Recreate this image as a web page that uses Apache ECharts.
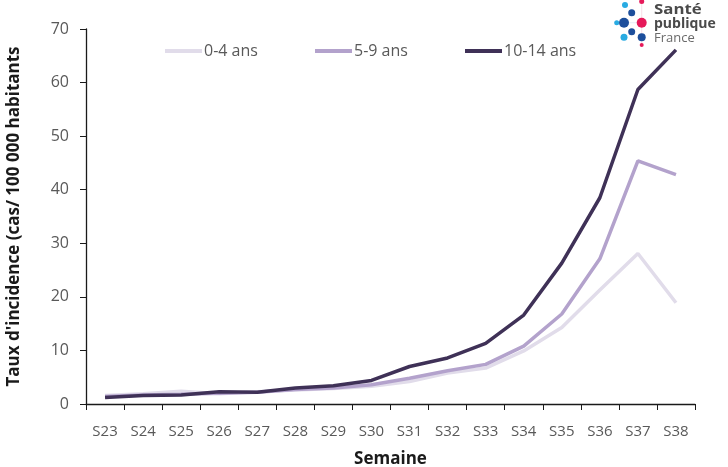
<!DOCTYPE html>
<html><head><meta charset="utf-8">
<script src="https://cdn.jsdelivr.net/npm/echarts@6/dist/echarts.min.js"></script>
<style>html,body{margin:0;padding:0;background:#fff}#c{width:728px;height:467px}</style>
</head><body><div id="c"></div>
<script>
const weeks = ['S23','S24','S25','S26','S27','S28','S29','S30','S31','S32','S33','S34','S35','S36','S37','S38'];
const ages04 = [1.6, 1.9, 2.4, 1.9, 2.3, 2.6, 2.9, 3.3, 4.2, 5.8, 6.7, 9.9, 14.3, 21.3, 28.1, 18.9];
const ages59 = [1.4, 1.7, 1.8, 2.0, 2.2, 2.7, 3.0, 3.6, 4.8, 6.2, 7.4, 10.8, 16.8, 27.1, 45.4, 42.8];
const ages1014 = [1.2, 1.6, 1.7, 2.3, 2.2, 3.0, 3.4, 4.4, 7.0, 8.6, 11.3, 16.6, 26.3, 38.5, 58.7, 66.1];
const yTicks = [0, 10, 20, 30, 40, 50, 60, 70];
const seriesNames = ['0-4 ans', '5-9 ans', '10-14 ans'];
const colors = ['#e1dcea', '#b3a2cc', '#3f3157'];

const chart = echarts.init(document.getElementById('c'));
const font = '"Open Sans", sans-serif';
const mk = (name, data, color) => ({
  name, type: 'line', data, symbol: 'none', smooth: false,
  lineStyle: { color, width: 3.5 }, itemStyle: { color }
});
const legendAt = (name, left) => ({
  data: [name], top: 38, left, itemWidth: 37, itemHeight: 4, icon: 'rect',
  textStyle: { color: '#595959', fontSize: 16, fontFamily: font, padding: [0, 0, 0, -3] }
});
const dots = [
  [625, 5, 3, '#29abe2'], [641.7, 1.5, 2.5, '#e6195a'], [631.7, 12.7, 3.5, '#1d4f9c'],
  [616.7, 22.7, 2.5, '#29abe2'], [624, 22.7, 5, '#1d4f9c'], [641.7, 22.7, 5, '#e6195a'],
  [631.7, 31.7, 3.5, '#1d4f9c'], [624, 37.3, 3.5, '#29abe2'], [641.7, 37.3, 4, '#1d4f9c'],
  [641.7, 45, 2, '#e6195a']
];
chart.setOption({
  animation: false,
  color: colors,
  grid: { left: 86, right: 33, top: 29, bottom: 63, containLabel: false, outerBoundsMode: 'none' },
  legend: [legendAt(seriesNames[0], 160), legendAt(seriesNames[1], 310), legendAt(seriesNames[2], 460)],
  xAxis: {
    type: 'category', data: weeks, boundaryGap: true,
    name: 'Semaine', nameLocation: 'middle', nameGap: 47,
    nameTextStyle: { color: '#1a1a1a', fontWeight: 'bold', fontSize: 17, fontFamily: font },
    axisLine: { lineStyle: { color: '#1a1a1a', width: 1.3 } },
    axisTick: { show: true, length: 6, lineStyle: { color: '#1a1a1a' }, alignWithLabel: false },
    axisLabel: { color: '#595959', fontSize: 15, fontFamily: font, margin: 20 }
  },
  yAxis: {
    type: 'value', min: yTicks[0], max: yTicks[yTicks.length - 1], interval: 10,
    name: "Taux d'incidence (cas/ 100 000 habitants", nameLocation: 'middle', nameGap: 63,
    nameRotate: 90,
    nameTextStyle: { color: '#1a1a1a', fontWeight: 'bold', fontSize: 17, fontFamily: font },
    axisLine: { show: true, lineStyle: { color: '#1a1a1a', width: 1.3 } },
    axisTick: { show: true, length: 6, inside: false, lineStyle: { color: '#1a1a1a' } },
    splitLine: { show: false },
    axisLabel: { color: '#595959', fontSize: 16, fontFamily: font, margin: 17 }
  },
  series: [mk(seriesNames[0], ages04, colors[0]), mk(seriesNames[1], ages59, colors[1]), mk(seriesNames[2], ages1014, colors[2])],
  graphic: [
    { type: 'line', shape: { x1: 641.7, y1: 1, x2: 641.7, y2: 45 }, style: { stroke: '#f3c9d6', lineWidth: 0.6 }, z: 10 },
    { type: 'line', shape: { x1: 614, y1: 22.7, x2: 641.7, y2: 22.7 }, style: { stroke: '#d6e2f2', lineWidth: 0.6 }, z: 10 },
    ...dots.map(d => ({ type: 'circle', shape: { cx: d[0], cy: d[1], r: d[2] }, style: { fill: d[3] }, z: 11 })),
    { type: 'text', x: 654, y: 3, scaleX: 1.2, style: { text: 'Santé', fill: '#4a4a4a', font: 'bold 14px ' + font, verticalAlign: 'top' }, z: 11 },
    { type: 'text', x: 654, y: 17, scaleX: 1.0, style: { text: 'publique', fill: '#4a4a4a', font: 'bold 14px ' + font, verticalAlign: 'top' }, z: 11 },
    { type: 'text', x: 654, y: 32, scaleX: 1.0, style: { text: 'France', fill: '#6a6a6a', font: '13px ' + font, verticalAlign: 'top' }, z: 11 }
  ]
});
</script></body></html>
